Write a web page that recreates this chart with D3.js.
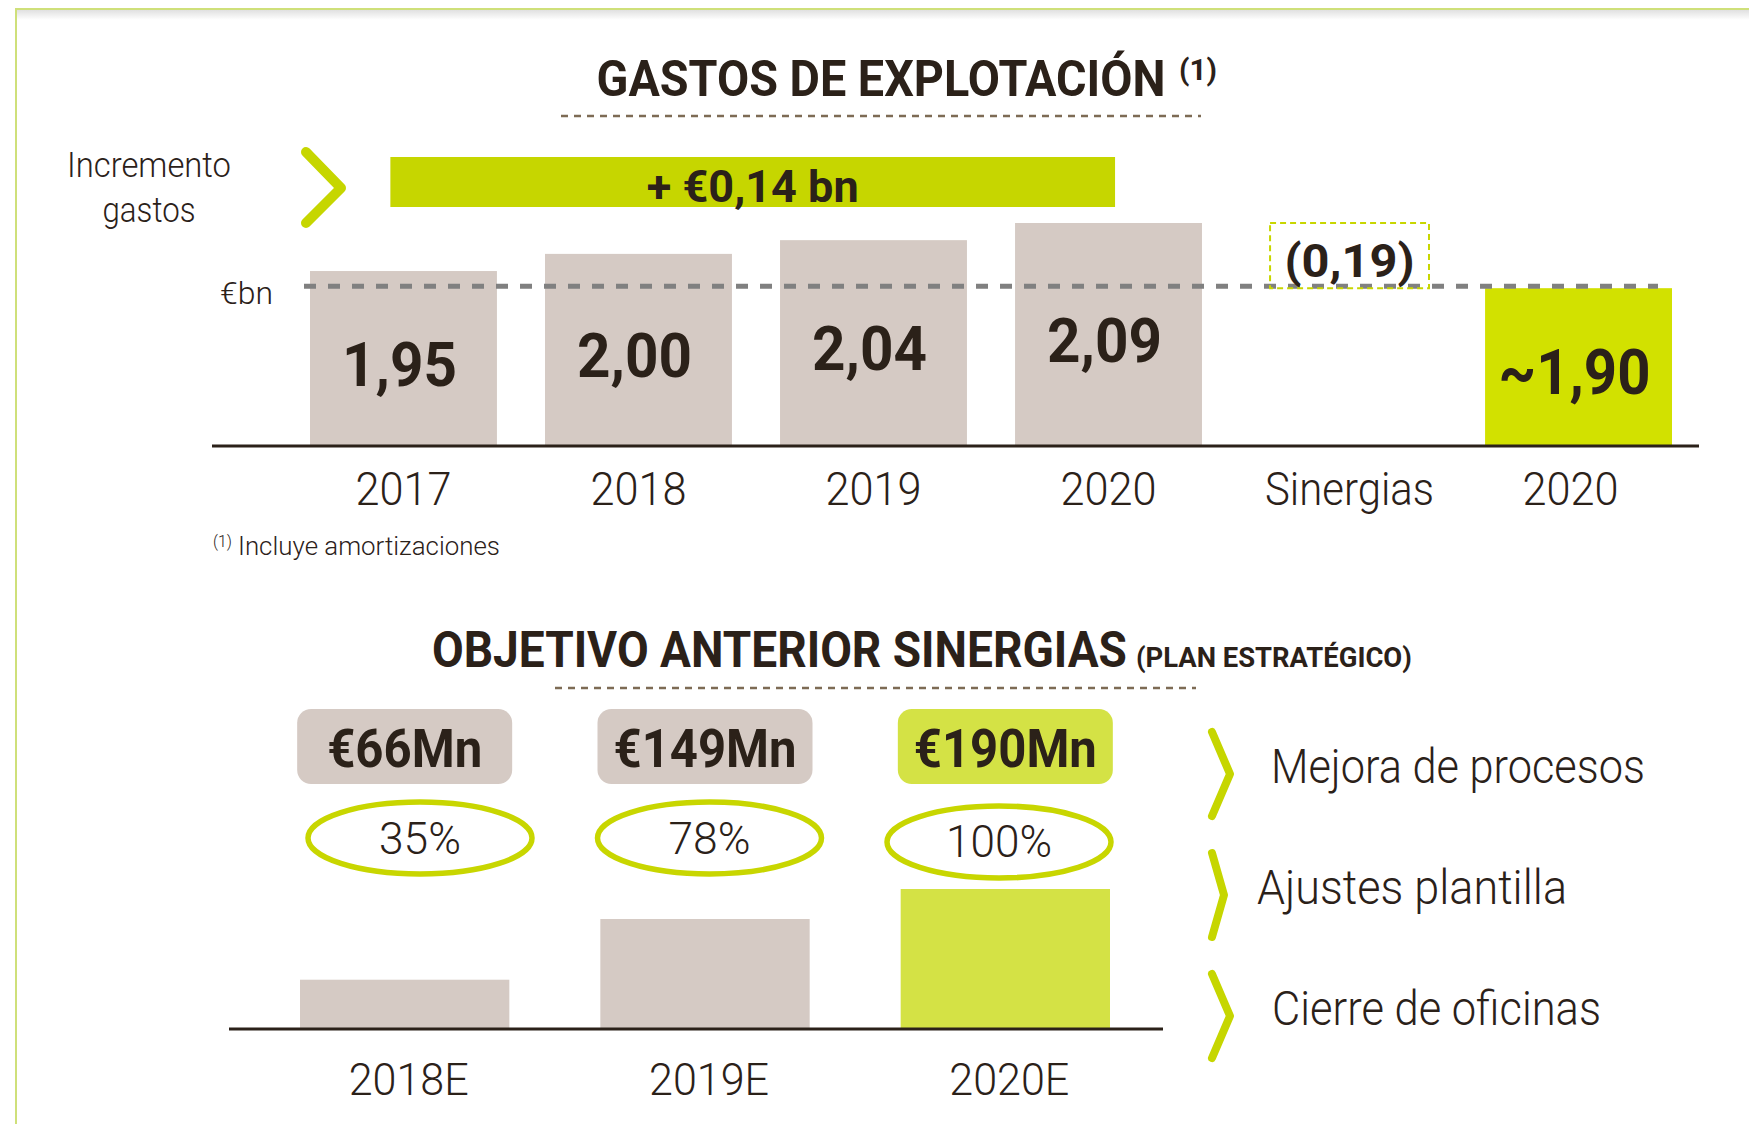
<!DOCTYPE html>
<html>
<head>
<meta charset="utf-8">
<script src="https://cdn.jsdelivr.net/npm/d3@7"></script>
<style>
  html, body { margin: 0; padding: 0; background: #ffffff; }
  svg { display: block; }
  text { font-family: Roboto, "Open Sans", Lato, sans-serif; fill: #2b2119; }
</style>
</head>
<body>
<svg id="chart" width="1749" height="1124"></svg>
<script>
// ---------------- DATA ----------------
const topTitle = "GASTOS DE EXPLOTACIÓN";
const topTitleNote = "(1)";
const topCategories = ["2017", "2018", "2019", "2020", "Sinergias", "2020"];
const topValues = [1.95, 2.00, 2.04, 2.09, null, 1.90];
const topValueLabels = ["1,95", "2,00", "2,04", "2,09", "(0,19)", "~1,90"];
const synergyValue = 0.19;
const incrementValue = 0.14;
const incrementLabel = "+ €0,14 bn";
const incrementText = ["Incremento", "gastos"];
const unitLabel = "€bn";
const footnoteMark = "(1)";
const footnote = "Incluye amortizaciones";

const bottomTitle = "OBJETIVO ANTERIOR SINERGIAS";
const bottomSubtitle = "(PLAN ESTRATÉGICO)";
const bottomCategories = ["2018E", "2019E", "2020E"];
const bottomValues = [66, 149, 190];
const bottomValueLabels = ["€66Mn", "€149Mn", "€190Mn"];
const bottomPercent = [35, 78, 100];
const levers = ["Mejora de procesos", "Ajustes plantilla", "Cierre de oficinas"];

// ---------------- STYLE ----------------
const C = {
  text: "#2b2119",
  beige: "#d5cac4",
  lime: "#c6d600",
  limeBright: "#d2e100",
  limeSoft: "#d4e245",
  ring: "#c8d600",
  grey: "#808080",
  dots: "#7d6b55",
  frame: "#cfe07a"
};

const svg = d3.select("#chart");

// text helper: font size sets the height, a horizontal scale fits the width
function txt(g, s, x, y, o) {
  o = o || {};
  const t = g.append("text")
    .attr("x", 0).attr("y", 0)
    .attr("text-anchor", o.anchor || "start")
    .style("font-size", (o.size || 20) + "px")
    .style("font-weight", o.weight || 400)
    .text(s);
  if (o.fill) t.style("fill", o.fill);
  let sx = 1;
  if (o.width) {
    const w = t.node().getComputedTextLength();
    if (w > 0) sx = o.width / w;
  }
  t.attr("transform", `translate(${x},${y}) scale(${sx},1)`);
  return t;
}

// ---------------- FRAME ----------------
const defs = svg.append("defs");
const grad = defs.append("linearGradient").attr("id", "shadow").attr("x1", 0).attr("y1", 0).attr("x2", 0).attr("y2", 1);
grad.append("stop").attr("offset", 0).attr("stop-color", "#e0e0e0");
grad.append("stop").attr("offset", 1).attr("stop-color", "#ffffff");
svg.append("rect").attr("x", 17).attr("y", 10).attr("width", 1732).attr("height", 10).attr("fill", "url(#shadow)");
svg.append("path").attr("d", "M16,1124 V9 H1749").attr("fill", "none").attr("stroke", C.frame).attr("stroke-width", 2);

// ---------------- TOP CHART ----------------
const gTop = svg.append("g");
const xTop = d3.scaleBand().domain(d3.range(topCategories.length)).range([310, 1672]).paddingInner(0.2046).paddingOuter(0);
const yTop = d3.scaleLinear().domain([1.44, 2.09]).range([446, 223]);
const baseTop = yTop(1.44);
const bw = xTop.bandwidth();

// title
txt(gTop, topTitle, 881, 96, { anchor: "middle", size: 50, weight: 700, width: 569 });
txt(gTop, topTitleNote, 1179, 80, { size: 29, weight: 700, width: 38 });
gTop.append("line").attr("x1", 561).attr("x2", 1201).attr("y1", 116).attr("y2", 116)
  .attr("stroke", C.dots).attr("stroke-width", 2.5).attr("stroke-dasharray", "7,6");

// increment row
txt(gTop, incrementText[0], 149, 177, { anchor: "middle", size: 35, weight: 300, width: 164 });
txt(gTop, incrementText[1], 149, 222, { anchor: "middle", size: 35, weight: 300, width: 93 });
gTop.append("path").attr("d", "M306,152 L341,188 L306,223")
  .attr("fill", "none").attr("stroke", C.lime).attr("stroke-width", 10)
  .attr("stroke-linecap", "round").attr("stroke-linejoin", "round");
const incStart = xTop(0) + bw * 0.43;
const incEnd = xTop(3) + bw * 0.535;
gTop.append("rect").attr("x", incStart).attr("y", 157).attr("width", incEnd - incStart).attr("height", 50).attr("fill", C.lime);
txt(gTop, incrementLabel, (incStart + incEnd) / 2, 202, { anchor: "middle", size: 44, weight: 700, width: 212 });

// bars
const topBars = topValues.map((v, i) => ({ i, v, label: topValueLabels[i], cat: topCategories[i] }));
gTop.selectAll("rect.bar").data(topBars.filter(d => d.v !== null)).join("rect")
  .attr("class", "bar")
  .attr("x", d => xTop(d.i))
  .attr("y", d => yTop(d.v))
  .attr("width", bw)
  .attr("height", d => baseTop - yTop(d.v))
  .attr("fill", d => d.i === topCategories.length - 1 ? C.limeBright : C.beige);

// reference dashed line at final level
const finalVal = topValues[topValues.length - 1];
gTop.append("line")
  .attr("x1", xTop(0) - 6).attr("x2", xTop(topCategories.length - 1) + bw - 14)
  .attr("y1", yTop(finalVal) - 2).attr("y2", yTop(finalVal) - 2)
  .attr("stroke", C.grey).attr("stroke-width", 5).attr("stroke-dasharray", "12,12");

// synergy floating box (waterfall step from 2020 down to final level)
const synIdx = 4;
const prevVal = topValues[3];
const inset = 14;
gTop.append("rect")
  .attr("x", xTop(synIdx) + inset + 6)
  .attr("y", yTop(prevVal))
  .attr("width", bw - 2 * inset)
  .attr("height", yTop(prevVal - synergyValue) - yTop(prevVal))
  .attr("fill", "none").attr("stroke", C.ring).attr("stroke-width", 2).attr("stroke-dasharray", "6,4");
txt(gTop, topValueLabels[synIdx], xTop(synIdx) + bw / 2 + 6, yTop(prevVal) + 54,
  { anchor: "middle", size: 46, weight: 700, width: 130 });

// value labels inside bars
topBars.filter(d => d.v !== null).forEach(d => {
  const mid = (yTop(d.v) + baseTop) / 2;
  txt(gTop, d.label, xTop(d.i) + bw / 2 - 4, mid + 27,
    { anchor: "middle", size: 62, weight: 700, width: d.label.length === 5 ? 152 : 115 });
});

// axis
gTop.append("line").attr("x1", 212).attr("x2", 1699).attr("y1", baseTop).attr("y2", baseTop)
  .attr("stroke", C.text).attr("stroke-width", 3);
topBars.forEach(d => {
  txt(gTop, d.cat, xTop(d.i) + bw / 2 + (d.i === synIdx ? 6 : 0) - (d.i === 5 ? 8 : 0), 505,
    { anchor: "middle", size: 46, weight: 300, width: d.cat.length > 4 ? 169 : 96 });
});
txt(gTop, unitLabel, 273, 304, { anchor: "end", size: 31, weight: 300, width: 53 });

// footnote
txt(gTop, footnoteMark, 213, 547, { size: 17, weight: 300, width: 19 });
txt(gTop, footnote, 238, 555, { size: 25, weight: 300, width: 262 });

// ---------------- BOTTOM CHART ----------------
const gBot = svg.append("g");
const xBot = d3.scaleBand().domain(bottomCategories).range([300, 1110]).paddingInner(0.303).paddingOuter(0);
const yBot = d3.scaleLinear().domain([0, 190]).range([1028, 889]);
const xRing = d3.scalePoint().domain(bottomCategories).range([420, 999]);

txt(gBot, bottomTitle, 432, 667, { size: 50, weight: 700, width: 695 });
txt(gBot, bottomSubtitle, 1136, 667, { size: 28, weight: 700, width: 276 });
gBot.append("line").attr("x1", 555).attr("x2", 1196).attr("y1", 688).attr("y2", 688)
  .attr("stroke", C.dots).attr("stroke-width", 2.5).attr("stroke-dasharray", "7,6");

const botData = bottomCategories.map((c, i) => ({
  c, i, v: bottomValues[i], lab: bottomValueLabels[i], pct: bottomPercent[i], last: i === bottomCategories.length - 1
}));
const pill = { w: 215, h: 75, y: 709 };
const valWidths = { 5: 155, 6: 183 };

gBot.selectAll("rect.pill").data(botData).join("rect")
  .attr("class", "pill")
  .attr("x", d => xBot(d.c) + xBot.bandwidth() / 2 - pill.w / 2)
  .attr("y", pill.y).attr("width", pill.w).attr("height", pill.h)
  .attr("rx", 14).attr("ry", 14)
  .attr("fill", d => d.last ? C.limeSoft : C.beige);
botData.forEach(d => {
  txt(gBot, d.lab, xBot(d.c) + xBot.bandwidth() / 2, 767,
    { anchor: "middle", size: 54, weight: 700, width: valWidths[d.lab.length] || 183 });
});

gBot.selectAll("ellipse.ring").data(botData).join("ellipse")
  .attr("class", "ring")
  .attr("cx", d => xRing(d.c))
  .attr("cy", d => d.last ? 842 : 838).attr("rx", 112).attr("ry", 36)
  .attr("fill", "none").attr("stroke", C.ring).attr("stroke-width", 5.5);
botData.forEach(d => {
  const s = d.pct + "%";
  txt(gBot, s, xRing(d.c), d.last ? 857 : 854,
    { anchor: "middle", size: 44, weight: 300, width: s.length > 3 ? 106 : 82 });
});

gBot.selectAll("rect.bar").data(botData).join("rect")
  .attr("class", "bar")
  .attr("x", d => xBot(d.c))
  .attr("y", d => yBot(d.v))
  .attr("width", xBot.bandwidth())
  .attr("height", d => yBot(0) - yBot(d.v))
  .attr("fill", d => d.last ? C.limeSoft : C.beige);

gBot.append("line").attr("x1", 229).attr("x2", 1163).attr("y1", yBot(0) + 1).attr("y2", yBot(0) + 1)
  .attr("stroke", C.text).attr("stroke-width", 3);
botData.forEach(d => {
  txt(gBot, d.c, xBot(d.c) + xBot.bandwidth() / 2 + 4, 1095,
    { anchor: "middle", size: 44, weight: 300, width: 120 });
});

// lever list
const leverY = d3.scalePoint().domain(levers).range([774, 1016]);
const leverX = [1271, 1257, 1272];
const leverW = [374, 310, 329];
levers.forEach((l, i) => {
  const cy = leverY(l);
  gBot.append("path")
    .attr("d", `M1212,${cy - 42} L${1230 - (i === 1 ? 6 : 0)},${cy} L1212,${cy + 42}`)
    .attr("fill", "none").attr("stroke", C.lime).attr("stroke-width", 8)
    .attr("stroke-linecap", "round").attr("stroke-linejoin", "round");
  txt(gBot, l, leverX[i], cy + 9, { size: 48, weight: 300, width: leverW[i] });
});
</script>
</body>
</html>
